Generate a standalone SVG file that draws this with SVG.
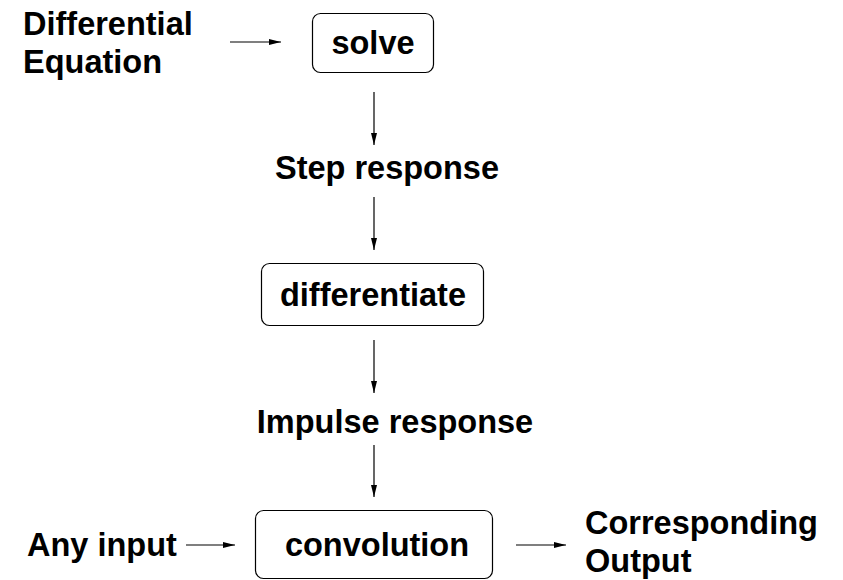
<svg xmlns="http://www.w3.org/2000/svg" width="843" height="580" viewBox="0 0 843 580">
<defs>
<marker id="ah" markerWidth="12" markerHeight="8" refX="12" refY="4" orient="auto" markerUnits="userSpaceOnUse">
<path d="M0,1 L12,4 L0,7 Z" fill="#000"/>
</marker>
<style>
text{font-family:"Liberation Sans",Arial,sans-serif;font-weight:bold;font-size:32.5px;fill:#000}
.box{fill:#fff;stroke:#000;stroke-width:1.2}
.c line{stroke:#000;stroke-width:1.2;marker-end:url(#ah)}
</style>
</defs>
<rect width="843" height="580" fill="#fff"/>
<g class="c" id="connectors">
<line x1="230" y1="42" x2="281" y2="42"/>
<line x1="374" y1="92" x2="374" y2="145"/>
<line x1="374" y1="197" x2="374" y2="250"/>
<line x1="374" y1="340" x2="374" y2="393"/>
<line x1="374" y1="445" x2="374" y2="497"/>
<line x1="186" y1="545" x2="235" y2="545"/>
<line x1="516" y1="545" x2="566" y2="545"/>
</g>
<g id="diffeq"><text x="23" y="35">Differential</text><text x="23" y="73">Equation</text></g>
<g id="solve"><rect class="box" x="312.5" y="13.5" width="121" height="59" rx="8"/><text x="373" y="54" text-anchor="middle">solve</text></g>
<g id="step"><text x="387" y="179" text-anchor="middle">Step response</text></g>
<g id="differentiate"><rect class="box" x="261.5" y="263.5" width="222" height="62" rx="8"/><text x="373" y="306" text-anchor="middle">differentiate</text></g>
<g id="impulse"><text x="395" y="433" text-anchor="middle">Impulse response</text></g>
<g id="anyinput"><text x="27" y="556">Any input</text></g>
<g id="convolution"><rect class="box" x="255.5" y="510.5" width="237" height="68" rx="8"/><text x="377" y="556" text-anchor="middle">convolution</text></g>
<g id="output"><text x="585" y="534">Corresponding</text><text x="585" y="572">Output</text></g>
</svg>
